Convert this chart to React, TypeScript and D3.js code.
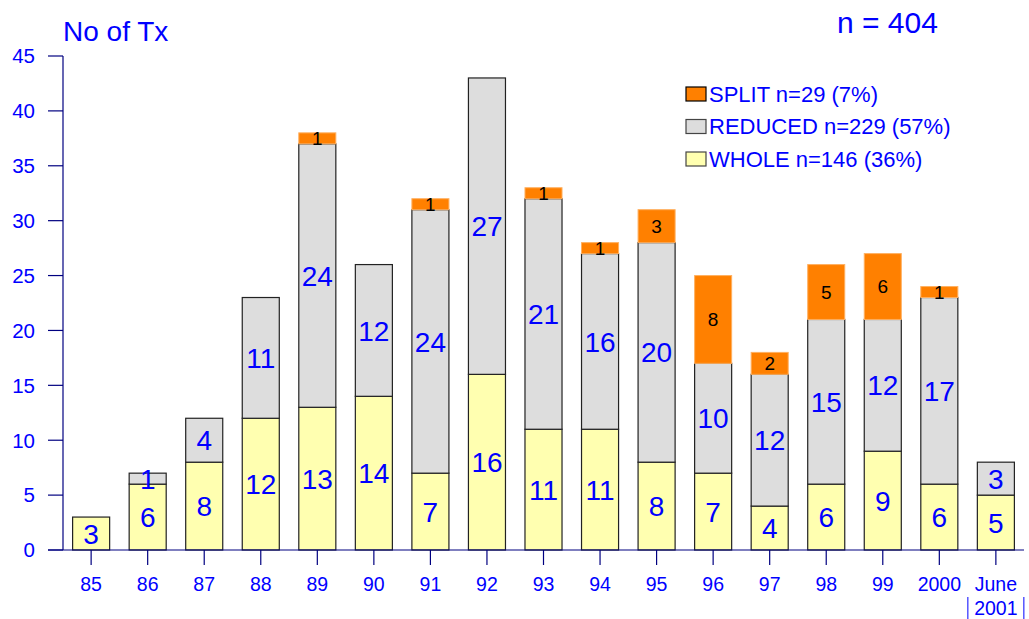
import React from "react";
import * as d3 from "d3";

const categories = ["85", "86", "87", "88", "89", "90", "91", "92", "93", "94", "95", "96", "97", "98", "99", "2000", "June"];
const whole = [3, 6, 8, 12, 13, 14, 7, 16, 11, 11, 8, 7, 4, 6, 9, 6, 5];
const reduced = [0, 1, 4, 11, 24, 12, 24, 27, 21, 16, 20, 10, 12, 15, 12, 17, 3];
const split = [0, 0, 0, 0, 1, 0, 1, 0, 1, 1, 3, 8, 2, 5, 6, 1, 0];
const yTicks = [0, 5, 10, 15, 20, 25, 30, 35, 40, 45];
const legendItems = [
  { key: "split", label: "SPLIT n=29 (7%)" },
  { key: "reduced", label: "REDUCED n=229 (57%)" },
  { key: "whole", label: "WHOLE n=146 (36%)" },
];

const BLUE = "#0000ff";
const AXIS = "#000080";
const FONT = "'Liberation Sans', Arial, sans-serif";
const colors: Record<string, string> = { whole: "#ffffb0", reduced: "#dddddd", split: "#ff8000" };

export default function App() {
  const W = 1029, H = 619;
  const x0 = 63, x1 = 1024;
  const y0 = 550, yTop = 56;
  const x = d3.scaleBand<string>().domain(categories).range([x0, x1]).paddingInner(0.345).paddingOuter(0.17);
  const y = d3.scaleLinear().domain([0, 45]).range([y0, yTop]);

  const rows = categories.map((c, i) => ({ c, whole: whole[i], reduced: reduced[i], split: split[i] }));
  const stack = d3.stack<any>().keys(["whole", "reduced", "split"])(rows);
  const bw = x.bandwidth();

  return (
    <svg width={W} height={H} style={{ position: "absolute", left: 0, top: 0, background: "#fff" }} fontFamily={FONT}>
      <rect width={W} height={H} fill="#fff" />
      {/* stacked segments */}
      {stack.map((layer) =>
        layer.map((d, i) => {
          const v = d[1] - d[0];
          if (v <= 0) return null;
          const xx = x(categories[i])!;
          const isSplit = layer.key === "split";
          return (
            <rect
              key={layer.key + i}
              x={xx}
              y={y(d[1])}
              width={bw}
              height={y(d[0]) - y(d[1])}
              fill={colors[layer.key]}
              stroke={isSplit ? "#ffb060" : "#222"}
              strokeWidth={isSplit ? 1 : 1.2}
            />
          );
        })
      )}
      {/* segment values */}
      {stack.map((layer) =>
        layer.map((d, i) => {
          const v = d[1] - d[0];
          if (v <= 0) return null;
          const isSplit = layer.key === "split";
          const cx = x(categories[i])! + bw / 2;
          const cy = y((d[0] + d[1]) / 2);
          return (
            <text
              key={"t" + layer.key + i}
              x={cx}
              y={cy}
              dy="0.36em"
              textAnchor="middle"
              fontSize={isSplit ? 19 : 28}
              fill={isSplit ? "#000" : BLUE}
            >
              {v}
            </text>
          );
        })
      )}
      {/* y axis */}
      <line x1={x0} x2={x0} y1={y0} y2={yTop} stroke={AXIS} strokeWidth={1.2} />
      {yTicks.map((t) => (
        <g key={t}>
          <line x1={x0 - 15} x2={x0} y1={y(t)} y2={y(t)} stroke={AXIS} strokeWidth={1.2} />
          <text x={35} y={y(t)} dy="0.36em" textAnchor="end" fontSize={20.5} fill={BLUE}>
            {t}
          </text>
        </g>
      ))}
      {/* x axis */}
      <line x1={x0 - 15} x2={x1} y1={y0} y2={y0} stroke={AXIS} strokeWidth={1.2} />
      {categories.map((c) => {
        const cx = x(c)! + bw / 2;
        return (
          <g key={c}>
            <line x1={cx} x2={cx} y1={y0} y2={y0 + 15} stroke={AXIS} strokeWidth={1.2} />
            <text x={cx} y={584} dy="0.36em" textAnchor="middle" fontSize={19.5} fill={BLUE}>
              {c}
            </text>
          </g>
        );
      })}
      {(() => {
        const cx = x("June")! + bw / 2;
        return (
          <g>
            <text x={cx} y={608} dy="0.36em" textAnchor="middle" fontSize={19.5} fill={BLUE}>
              2001
            </text>
            <line x1={cx - 28} x2={cx - 28} y1={597} y2={619} stroke={BLUE} strokeWidth={1} />
            <line x1={cx + 28} x2={cx + 28} y1={597} y2={619} stroke={BLUE} strokeWidth={1} />
          </g>
        );
      })()}
      {/* titles */}
      <text x={63} y={41} fontSize={28} fill={BLUE}>
        No of Tx
      </text>
      <text x={837} y={33} fontSize={30} fill={BLUE}>
        n = 404
      </text>
      {/* legend */}
      {legendItems.map((it, i) => {
        const cy = 94 + i * 32.5;
        return (
          <g key={it.key}>
            <rect x={686} y={cy - 7} width={20} height={14} fill={colors[it.key]} stroke={it.key === "split" ? "#000" : "#444"} strokeWidth={1.2} />
            <text x={709} y={cy} dy="0.36em" fontSize={22} fill={BLUE}>
              {it.label}
            </text>
          </g>
        );
      })}
    </svg>
  );
}
